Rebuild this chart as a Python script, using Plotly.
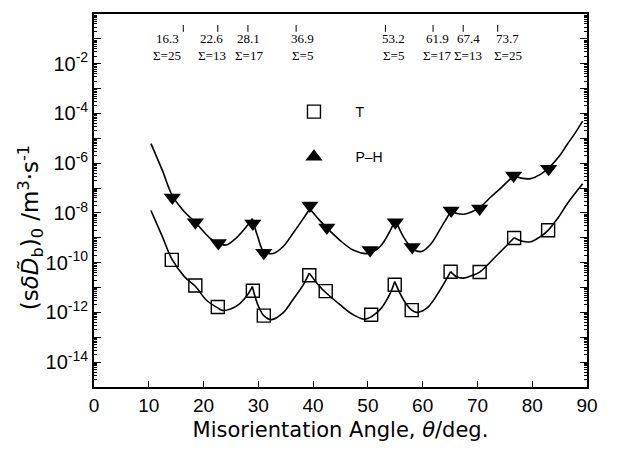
import plotly.graph_objects as go

# ---------------- data ----------------
theta_T = [14.2, 18.5, 22.6, 29.0, 31.0, 39.3, 42.3, 50.6, 54.9, 58.0, 65.1, 70.4, 76.7, 82.9]
D_T = [1.29e-10, 1.2e-11, 1.66e-12, 7.4e-12, 7.4e-13, 3.1e-11, 7.2e-12, 8.1e-13,
       1.29e-11, 1.23e-12, 4.3e-11, 4.2e-11, 9.8e-10, 2.0e-9]

theta_PH = [14.3, 18.5, 22.7, 29.0, 31.0, 39.4, 42.5, 50.4, 55.0, 58.1, 65.2, 70.4, 76.6, 83.0]
D_PH = [4.2e-8, 4.2e-9, 6.2e-10, 3.8e-9, 2.5e-10, 2.0e-8, 2.6e-9, 3.2e-10,
        4.2e-9, 4.3e-10, 1.26e-8, 1.5e-8, 3.2e-7, 6.0e-7]

# fitted curves, arcs separated by None, log10 values
fit_PH_theta = [10.4, 12.5, 14.3, 16.5, 18.5, 21.1, 22.7, 24.1, 26.0, 27.8, 28.9, None,
                28.9, 29.9, 31.0, 32.7, 34.5, 36.3, 38.2, 39.4, None,
                39.4, 41.2, 42.5, 44.9, 47.3, 50.1, 52.2, 54.1, 55.0, None,
                55.0, 56.5, 58.2, 59.8, 61.5, 63.2, 65.2, None,
                65.2, 66.3, 67.5, 69.0, 70.4, 72.5, 74.5, 76.6, None,
                76.6, 78.0, 79.7, 81.5, 83.1, 85.0, 86.4, 87.8, 89.2]
fit_PH_log = [-5.21, -6.3, -7.3, -7.95, -8.38, -9.0, -9.22, -9.29, -9.0, -8.56, -8.23, None,
              -8.23, -8.96, -9.56, -9.63, -9.36, -8.83, -8.23, -7.83, None,
              -7.83, -8.30, -8.6, -9.10, -9.49, -9.63, -9.36, -8.70, -8.27, None,
              -8.27, -8.96, -9.45, -9.55, -9.25, -8.65, -7.92, None,
              -7.92, -8.02, -8.05, -7.95, -7.78, -7.35, -6.95, -6.50, None,
              -6.50, -6.6, -6.62, -6.45, -6.17, -5.7, -5.24, -4.8, -4.31]

fit_T_theta = [10.4, 12.5, 14.2, 16.5, 18.5, 20.5, 22.6, 23.5, 26.0, 27.8, 28.9, None,
               28.9, 29.9, 31.0, 32.4, 34.5, 36.3, 38.2, 39.3, None,
               39.3, 41.2, 42.3, 44.9, 47.3, 49.5, 52.2, 54.1, 54.9, None,
               54.9, 56.5, 58.0, 58.9, 60.8, 63.2, 65.1, None,
               65.1, 66.3, 67.5, 69.0, 70.4, 73.6, 76.7, None,
               76.7, 78.2, 79.7, 81.3, 82.9, 84.7, 86.4, 89.2]
fit_T_log = [-7.90, -8.96, -9.85, -10.56, -10.95, -11.5, -11.82, -11.92, -11.75, -11.36, -10.96, None,
             -10.96, -11.69, -12.13, -12.29, -12.02, -11.49, -10.89, -10.42, None,
             -10.42, -10.96, -11.2, -11.69, -12.09, -12.27, -11.89, -11.22, -10.76, None,
             -10.76, -11.49, -11.91, -12.0, -11.82, -11.09, -10.36, None,
             -10.36, -10.58, -10.62, -10.52, -10.38, -9.69, -9.00, None,
             -9.00, -9.14, -9.16, -8.98, -8.70, -8.2, -7.63, -6.83]

csl_angles = [16.3, 22.6, 28.1, 36.9, 53.2, 61.9, 67.4, 73.7]
csl_sigma = [25, 13, 17, 5, 5, 17, 13, 25]

y_exponents = list(range(-15, 1))
y_labeled = [-14, -12, -10, -8, -6, -4, -2]
x_ticks = [0, 10, 20, 30, 40, 50, 60, 70, 80, 90]

# label nudges (styling only, pixels)
csl_label_shift = [-16, -6, 1, 6, 8, 4, 5, 10]

# ---------------- figure ----------------
def tolin(vals):
    return [None if v is None else 10 ** v for v in vals]

fig = go.Figure()
fig.add_trace(go.Scatter(x=fit_PH_theta, y=tolin(fit_PH_log), mode="lines",
                         line=dict(color="black", width=1.6, shape="spline", smoothing=1.0),
                         connectgaps=False, showlegend=False, hoverinfo="skip"))
fig.add_trace(go.Scatter(x=fit_T_theta, y=tolin(fit_T_log), mode="lines",
                         line=dict(color="black", width=1.6, shape="spline", smoothing=1.0),
                         connectgaps=False, showlegend=False, hoverinfo="skip"))
fig.add_trace(go.Scatter(x=theta_T, y=D_T, mode="markers", showlegend=False,
                         marker=dict(symbol="square-open", size=13, color="black",
                                     line=dict(width=1.4, color="black"))))
fig.add_trace(go.Scatter(x=theta_PH, y=D_PH, mode="markers", showlegend=False,
                         marker=dict(symbol="triangle-down", size=15, color="black")))
# legend entries
fig.add_trace(go.Scatter(x=[None], y=[None], mode="markers", name="T", legendgroup="T",
                         marker=dict(symbol="square-open", size=13, color="black",
                                     line=dict(width=1.4, color="black"))))
fig.add_trace(go.Scatter(x=[None], y=[None], mode="markers", name="P\u2013H", legendgroup="PH",
                         marker=dict(symbol="triangle-up", size=15, color="black")))

serif = dict(family="Liberation Serif", size=13, color="black")
for a, s, dx in zip(csl_angles, csl_sigma, csl_label_shift):
    fig.add_annotation(x=a, xref="x", y=(388 - 45) / 376, yref="paper", text=f"{a}",
                       showarrow=False, font=serif, xanchor="center", yanchor="bottom",
                       xshift=dx, borderpad=0)
    fig.add_annotation(x=a, xref="x", y=(388 - 45) / 376, yref="paper", text=f"\u03a3={s}",
                       showarrow=False, font=serif, xanchor="center", yanchor="top",
                       xshift=dx, borderpad=0)
    fig.add_shape(type="line", xref="x", yref="paper", x0=a, x1=a,
                  y0=(388 - 23) / 376, y1=(388 - 30) / 376,
                  line=dict(color="black", width=1))

ticktext = [f"10<sup>-{-e}</sup>" if e in y_labeled else "" for e in y_exponents]

fig.update_xaxes(range=[0, 90], tickvals=x_ticks, ticks="inside", ticklen=6, tickwidth=1.2,
                 tickcolor="black", showline=True, linecolor="black", linewidth=1.8, mirror=True,
                 showgrid=False, zeroline=False,
                 tickfont=dict(family="Liberation Sans", size=19, color="black"),
                 title=dict(text="Misorientation Angle, <i>\u03b8</i>/deg.",
                            font=dict(family="DejaVu Sans", size=21, color="black"), standoff=8))
fig.update_yaxes(type="log", range=[-15, 0], tickmode="array",
                 tickvals=[10 ** e for e in y_exponents], ticktext=ticktext,
                 ticks="inside", ticklen=7, tickwidth=1.2, tickcolor="black",
                 minor=dict(ticks="inside", ticklen=3, tickcolor="black", dtick="D1", showgrid=False),
                 showline=True, linecolor="black", linewidth=1.8, mirror="allticks",
                 showgrid=False, zeroline=False,
                 tickfont=dict(family="Liberation Sans", size=20, color="black"))

fig.add_annotation(text="(s<i>\u03b4D\u0303</i><sub>b</sub>)<sub>0</sub> /m<sup>3</sup>\u00b7s<sup>-1</sup>",
                   xref="paper", yref="paper", x=(30 - 94) / 493, y=(388 - 228) / 376,
                   textangle=-90, showarrow=False, xanchor="center", yanchor="middle",
                   font=dict(family="DejaVu Sans", size=23, color="black"))

fig.update_layout(width=620, height=450, margin=dict(l=94, r=33, t=12, b=62),
                  paper_bgcolor="white", plot_bgcolor="white",
                  legend=dict(x=0.362, y=0.78, xanchor="left", yanchor="top", bgcolor="rgba(0,0,0,0)",
                              font=dict(family="Liberation Sans", size=14, color="black"),
                              tracegroupgap=24, traceorder="grouped", itemwidth=73))

fig.write_html("out.html")
